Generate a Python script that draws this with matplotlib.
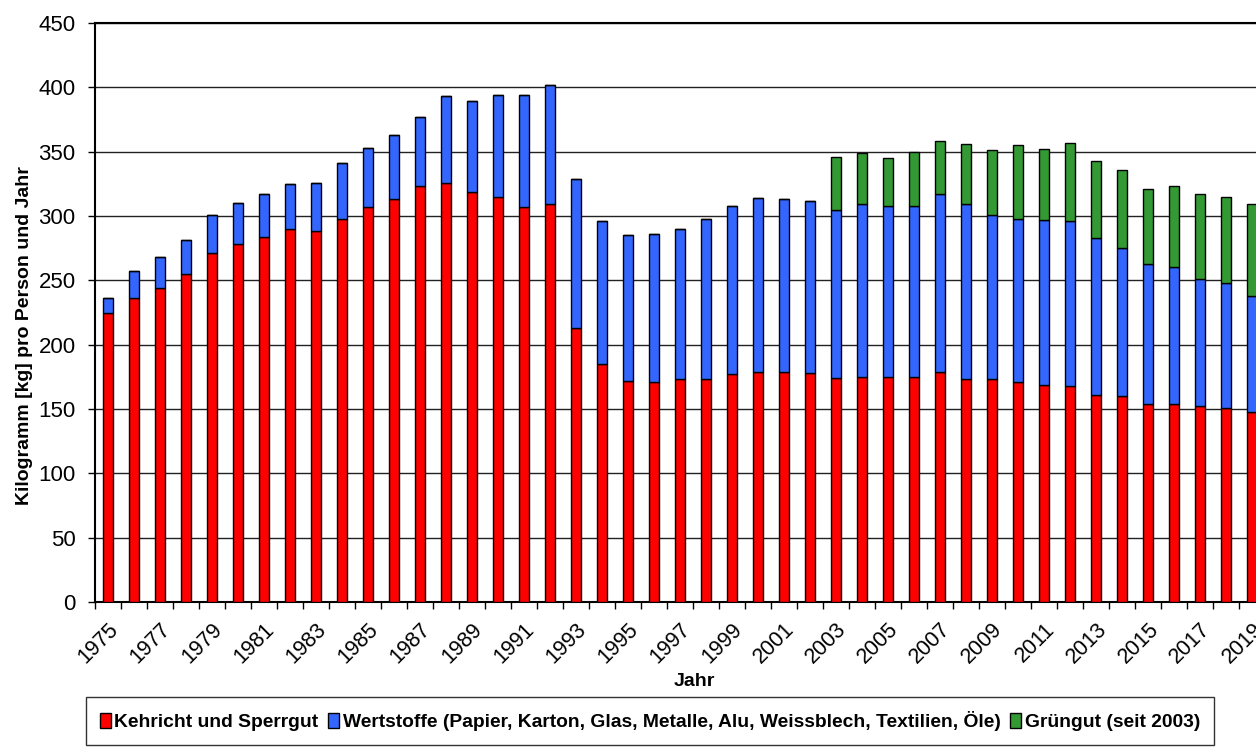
import matplotlib
matplotlib.use("Agg")
import matplotlib.pyplot as plt
import numpy as np

plt.rcParams['font.family'] = ['Liberation Sans', 'DejaVu Sans']

# Jahre und Werte (kg pro Person und Jahr)
years = list(range(1975, 2020))
kehricht = [225, 236, 244, 255, 271, 278, 284, 290, 288, 298,
            307, 313, 323, 326, 319, 315, 307, 309, 213, 185,
            172, 171, 173, 173, 177, 179, 179, 178, 174, 175,
            175, 175, 179, 173, 173, 171, 169, 168, 161, 160,
            154, 154, 152, 151, 148]
wertstoffe_top = [236, 257, 268, 281, 301, 310, 317, 325, 326, 341,
                  353, 363, 377, 393, 389, 394, 394, 402, 329, 296,
                  285, 286, 290, 298, 308, 314, 313, 312, 305, 309,
                  308, 308, 317, 309, 301, 298, 297, 296, 283, 275,
                  263, 260, 251, 248, 238]
total = [236, 257, 268, 281, 301, 310, 317, 325, 326, 341,
         353, 363, 377, 393, 389, 394, 394, 402, 329, 296,
         285, 286, 290, 298, 308, 314, 313, 312, 346, 349,
         345, 350, 358, 356, 351, 355, 352, 357, 343, 336,
         321, 323, 317, 315, 309]

labels = ["Kehricht und Sperrgut",
          "Wertstoffe (Papier, Karton, Glas, Metalle, Alu, Weissblech, Textilien, Öle)",
          "Grüngut (seit 2003)"]
colors = ["#FF0000", "#3366FF", "#339933"]

red = np.array(kehricht)
blue = np.array(wertstoffe_top) - red
green = np.array(total) - np.array(wertstoffe_top)

fig = plt.figure(figsize=(12.56, 7.49), dpi=100)
ax = fig.add_axes([95/1256, 1 - 602/749, 1170/1256, (602 - 23)/749])

x = np.arange(len(years))
w = 0.41
ax.bar(x, red, w, color=colors[0], edgecolor='black', linewidth=1, label=labels[0], zorder=3)
ax.bar(x, blue, w, bottom=red, color=colors[1], edgecolor='black', linewidth=1, label=labels[1], zorder=3)
ax.bar(x, green, w, bottom=red + blue, color=colors[2], edgecolor='black', linewidth=1, label=labels[2], zorder=3)

ax.set_xlim(-0.5, len(years) - 0.5)
ax.set_ylim(0, 450)
ax.set_yticks(range(0, 451, 50))
ax.yaxis.grid(True, color='#222222', linewidth=1, zorder=0)
ax.tick_params(axis='y', direction='out', length=5, labelsize=16, width=1, pad=9)

# Beschriftung jedes zweite Jahr, Striche an den Kategoriegrenzen
ax.set_xticks(x[::2])
ax.set_xticklabels([str(y) for y in years[::2]], rotation=45, ha='right',
                   va='top', rotation_mode='anchor', fontsize=15.5)
ax.tick_params(axis='x', which='major', length=0, pad=12)
ax.set_xticks(np.arange(-0.5, len(years), 1), minor=True)
ax.tick_params(axis='x', which='minor', direction='out', length=5, width=1)

for s in ax.spines.values():
    s.set_linewidth(1.5)
    s.set_color('black')

ax.set_ylabel("Kilogramm [kg] pro Person und Jahr", fontsize=14, fontweight='bold')
ax.yaxis.set_label_coords(-0.053, 0.46)
ax.set_xlabel("Jahr", fontsize=14, fontweight='bold')
ax.xaxis.set_label_coords(0.512, -0.122)

leg = fig.legend(loc='center', bbox_to_anchor=(650/1256, 1 - 721/749), ncol=3,
                 frameon=True, fancybox=False, edgecolor='black',
                 prop={'size': 13.9, 'weight': 'bold'},
                 handlelength=0.55, handleheight=0.8, handletextpad=0.2,
                 columnspacing=0.5, borderpad=0.7)
leg.get_frame().set_linewidth(1)

fig.savefig("out.png", dpi=100)
